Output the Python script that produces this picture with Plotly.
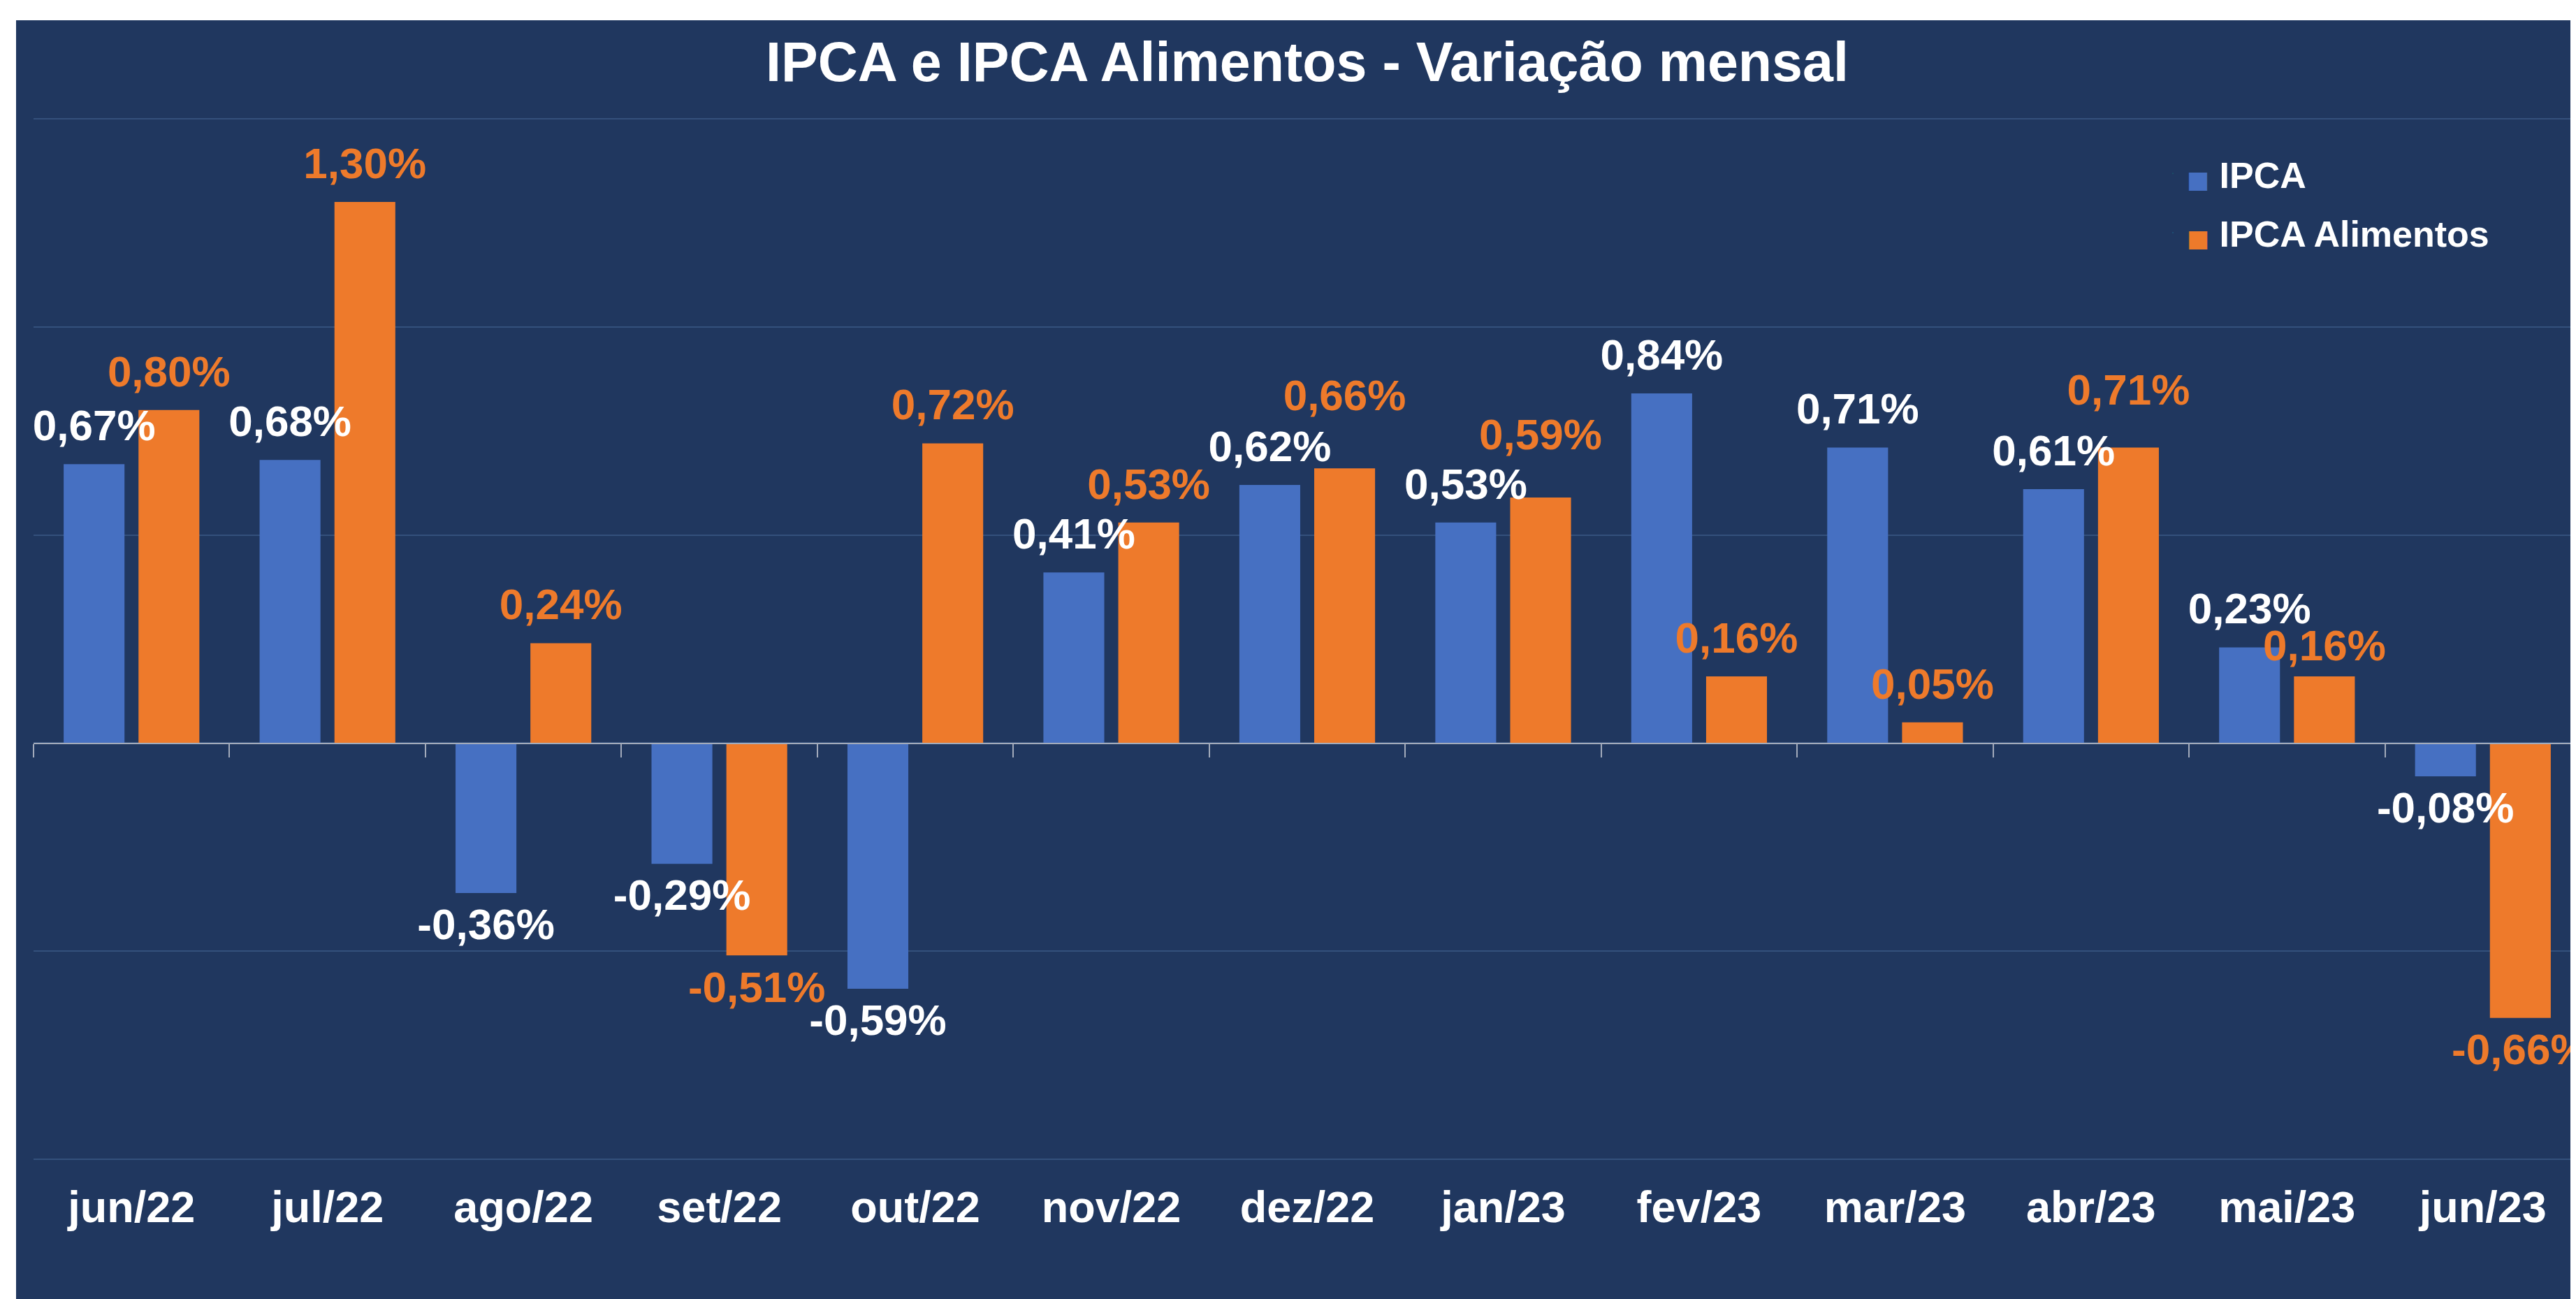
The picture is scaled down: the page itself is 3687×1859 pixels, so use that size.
"""IPCA e IPCA Alimentos - variação mensal (jun/22 a jun/23)"""

import plotly.graph_objects as go

meses = ["jun/22", "jul/22", "ago/22", "set/22", "out/22", "nov/22", "dez/22",
         "jan/23", "fev/23", "mar/23", "abr/23", "mai/23", "jun/23"]
ipca = [0.67, 0.68, -0.36, -0.29, -0.59, 0.41, 0.62, 0.53, 0.84, 0.71, 0.61, 0.23, -0.08]
ipca_alimentos = [0.80, 1.30, 0.24, -0.51, 0.72, 0.53, 0.66, 0.59, 0.16, 0.05, 0.71, 0.16, -0.66]
series = ["IPCA", "IPCA Alimentos"]

FUNDO = "#20375f"
AZUL = "#4670c2"
LARANJA = "#ee7a2b"
GRADE = "#34507c"
EIXO = "#a3abbb"
FONTE = "Liberation Sans, Arial, sans-serif"

W, H = 3687, 1859
M_L, M_R, M_T, M_B = 40, 1, 160, 206
PW, PH = W - M_L - M_R, H - M_T - M_B
BARGAP = 0.236

# rótulos de IPCA Alimentos que foram deslocados à mão no original (px)
AFASTAR_ALIMENTOS = {"dez/22": 39, "jan/23": 28, "abr/23": 22, "mai/23": -9}


def rotulo(v):
    return f"{v:.2f}".replace(".", ",") + "%"


def item_legenda(cor, nome):
    quadrado = f"<span style='color:{cor};font-family:DejaVu Sans;font-size:34px'>■</span>"
    return f"{quadrado} {nome}"


def folgas(valores, extra):
    # tamanho do ponto invisível = distância entre ponta da barra e rótulo
    return [(28 if v >= 0 else 30) + 2 * extra.get(m, 0) for m, v in zip(meses, valores)]


fig = go.Figure()
for nome, valores, cor, cor_txt, extra in [(series[0], ipca, AZUL, "white", {}),
                                           (series[1], ipca_alimentos, LARANJA, LARANJA,
                                            AFASTAR_ALIMENTOS)]:
    fig.add_trace(go.Bar(
        x=meses, y=valores, name=nome, showlegend=False,
        marker=dict(color=cor, line=dict(width=0)),
    ))
    # rótulos de dados: pontos invisíveis alinhados às barras
    fig.add_trace(go.Scatter(
        x=meses, y=valores, mode="markers+text", showlegend=False,
        marker=dict(size=folgas(valores, extra), opacity=0), hoverinfo="skip",
        text=[rotulo(v) for v in valores],
        textposition=["top center" if v >= 0 else "bottom center" for v in valores],
        textfont=dict(family=FONTE, size=62, color=cor_txt, weight="bold"),
        cliponaxis=False,
    ))
    # entrada de legenda com quadrado maior que o símbolo padrão
    fig.add_trace(go.Scatter(
        x=[None], y=[None], xaxis="x2", mode="markers", name=item_legenda(cor, nome),
        legendgroup=nome, marker=dict(opacity=0, size=1), hoverinfo="skip",
    ))
# eixo auxiliar só para desenhar a linha do zero com marcas entre categorias
fig.add_trace(go.Scatter(x=[], y=[], xaxis="x2", showlegend=False, hoverinfo="skip"))

fig.update_layout(
    width=W, height=H,
    margin=dict(l=M_L, r=M_R, t=M_T, b=M_B),
    paper_bgcolor=FUNDO, plot_bgcolor=FUNDO,
    barmode="group", bargap=BARGAP, bargroupgap=0.187,
    scattermode="group", scattergap=BARGAP,
    font=dict(family=FONTE, color="white"),
    title=dict(
        text="<b>IPCA e IPCA Alimentos - Variação mensal</b>",
        font=dict(family=FONTE, size=79, color="white"),
        x=0.5, xref="paper", xanchor="center",
        y=1 - 80 / H, yref="container", yanchor="middle",
    ),
    legend=dict(
        x=(3082 - M_L) / PW, xanchor="left",
        y=1 + (M_T - 200) / PH, yanchor="top",
        font=dict(family=FONTE, size=52, color="white", weight="bold"),
        bgcolor="rgba(0,0,0,0)", tracegroupgap=14, itemwidth=30,
    ),
    xaxis=dict(
        type="category", showgrid=False, showline=False, ticks="",
        tickfont=dict(family=FONTE, size=63, color="white", weight="bold"),
        ticklabelstandoff=24,
    ),
    xaxis2=dict(
        overlaying="x", anchor="free", position=1 / 2.5,
        range=[-0.5, len(meses) - 0.5],
        tickvals=[i - 0.5 for i in range(len(meses) + 1)],
        showticklabels=False, showgrid=False, zeroline=False,
        showline=True, linecolor=EIXO, linewidth=2,
        ticks="outside", ticklen=19, tickwidth=2, tickcolor=EIXO,
    ),
    yaxis=dict(
        range=[-1.003, 1.503], tickvals=[-1.0, -0.5, 0.0, 0.5, 1.0, 1.5],
        showticklabels=False,
        showgrid=True, gridcolor=GRADE, gridwidth=2, zeroline=False,
    ),
    shapes=[
        # faixa branca à esquerda e no topo, como na imagem original
        dict(type="rect", xref="paper", yref="paper", layer="above",
             x0=-M_L / PW, x1=(15 - M_L) / PW, y0=-M_B / PH - 0.01, y1=1 + M_T / PH + 0.01,
             fillcolor="white", line=dict(width=0)),
        dict(type="rect", xref="paper", yref="paper", layer="above",
             x0=-M_L / PW, x1=1 + 0.01, y0=1 + (M_T - 21) / PH, y1=1 + M_T / PH + 0.01,
             fillcolor="white", line=dict(width=0)),
    ],
)

fig.write_html("out.html")
